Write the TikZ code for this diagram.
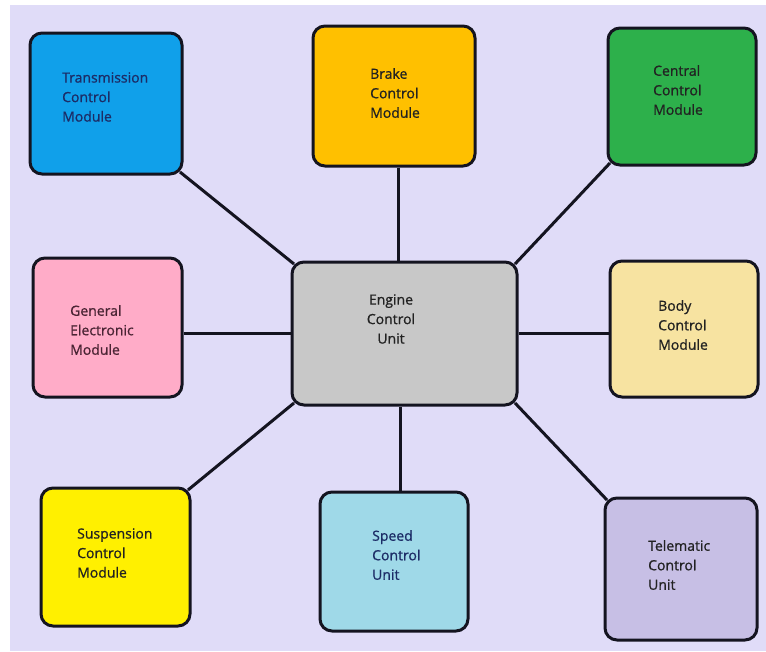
\documentclass[tikz,border=0pt]{standalone}
\usepackage{fontspec}
\setmainfont{Open Sans}
\newfontfamily\lblfont[FakeBold=0.9]{Open Sans}
\definecolor{bg}{HTML}{E0DCF8}
\definecolor{edge}{HTML}{141420}
\definecolor{ctcm}{HTML}{10A0EA}
\definecolor{cbrake}{HTML}{FFC000}
\definecolor{ccentral}{HTML}{2DB04B}
\definecolor{cgem}{HTML}{FFACC8}
\definecolor{cecu}{HTML}{C8C8C8}
\definecolor{cbody}{HTML}{F7E3A1}
\definecolor{csusp}{HTML}{FFF000}
\definecolor{cspeed}{HTML}{9FD9E8}
\definecolor{ctele}{HTML}{C7BFE5}
\definecolor{tnavy}{HTML}{1C2C66}
\definecolor{tdark}{HTML}{222222}
\definecolor{tmaroon}{HTML}{4A2434}
\begin{document}
\begin{tikzpicture}[x=1pt,y=-1pt,
  box/.style={draw=edge, line width=3pt, rounded corners=12pt, inner sep=0pt},
  lbl/.style={font=\lblfont\fontsize{14}{19.5}\selectfont, text=tdark, align=left, anchor=west, inner sep=0pt},
  link/.style={line width=3pt, draw=edge}]
\fill[white] (0,0) rectangle (766,651);
\fill[bg] (10,5) rectangle (766,651);
\useasboundingbox (0,0) rectangle (766,651);
% boxes
\node[box, fill=ctcm, minimum width=152pt, minimum height=141pt] (tcm) at (106,103.5) {};
\node[box, fill=cbrake, minimum width=162pt, minimum height=140pt] (brake) at (394,96) {};
\node[box, fill=ccentral, minimum width=148pt, minimum height=137pt] (central) at (682,96.5) {};
\node[box, fill=cgem, minimum width=149pt, minimum height=139pt] (gem) at (107.5,327.5) {};
\node[box, fill=cecu, minimum width=225pt, minimum height=143pt] (ecu) at (404.5,333.5) {};
\node[box, fill=cbody, minimum width=148pt, minimum height=136pt] (body) at (684,329) {};
\node[box, fill=csusp, minimum width=149pt, minimum height=138pt] (susp) at (115.5,557) {};
\node[box, fill=cspeed, minimum width=148pt, minimum height=139pt] (speed) at (394,561.5) {};
\node[box, fill=ctele, minimum width=152pt, minimum height=142pt] (tele) at (681,569) {};
% labels
\node[lbl, text=tnavy] (ltcm) at (62,97) {Transmission\\Control\\Module};
\node[lbl] (lbrake) at (370,93) {Brake\\Control\\Module};
\node[lbl] (lcentral) at (653,90) {Central\\Control\\Module};
\node[lbl, text=tmaroon] (lgem) at (70,330) {General\\Electronic\\Module};
\node[lbl, align=center, anchor=center] (lecu) at (391,319) {Engine\\Control\\Unit};
\node[lbl] (lbody) at (658,325) {Body\\Control\\Module};
\node[lbl] (lsusp) at (77,553) {Suspension\\Control\\Module};
\node[lbl, text=tnavy] (lspeed) at (372,555) {Speed\\Control\\Unit};
\node[lbl] (ltele) at (648,565) {Telematic\\Control\\Unit};
% connectors
\draw[link] ([xshift=-3.5pt,yshift=3.5pt]tcm.south east) -- ([xshift=3.5pt,yshift=-3.5pt]ecu.north west);
\draw[link] ([xshift=4pt]brake.south) -- ([xshift=4pt]brake.south |- ecu.north);
\draw[link] ([xshift=3.5pt,yshift=3.5pt]central.south west) -- ([xshift=-3.5pt,yshift=-3.5pt]ecu.north east);
\draw[link] (gem.east |- ecu.west) -- (ecu.west);
\draw[link] (ecu.east) -- (ecu.east -| body.west);
\draw[link] ([xshift=-3.5pt,yshift=-3.5pt]susp.north east) -- ([xshift=3.5pt,yshift=3.5pt]ecu.south west);
\draw[link] ([xshift=6pt]speed.north) -- ([xshift=6pt]speed.north |- ecu.south);
\draw[link] ([xshift=-3.5pt,yshift=3.5pt]ecu.south east) -- ([xshift=3.5pt,yshift=-3.5pt]tele.north west);
\end{tikzpicture}
\end{document}
